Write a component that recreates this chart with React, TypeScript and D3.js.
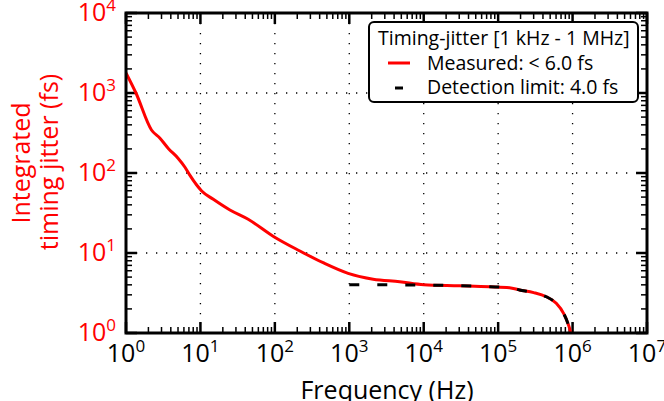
import React from 'react';
import * as d3 from 'd3';

// integrated timing jitter
const measuredFreq = [1, 1.36, 2.2, 2.86, 3.7, 5.0, 6.2, 7.2, 8.9, 10.4, 14.9, 24.9, 43.8, 97, 217, 445, 964, 2090, 4760, 1e4, 3e4, 7.7e4, 1.42e5, 1.94e5, 3e5, 4.43e5, 6.04e5, 7.57e5, 8.65e5, 9.4e5, 9.7e5];
const measuredJitter = [1780, 1000, 345, 272, 203, 153, 118, 94, 70.8, 59.6, 46.9, 34.5, 26.4, 16.0, 10.6, 7.56, 5.57, 4.69, 4.38, 4.02, 3.9, 3.79, 3.68, 3.45, 3.2, 2.84, 2.35, 1.76, 1.32, 1.0, 0.8];

const limitFreq = [1e3, 3e3, 1e4, 3e4, 7.7e4, 1.42e5, 1.94e5, 3e5, 4.43e5, 6.04e5, 7.57e5, 8.65e5, 9.4e5, 9.7e5];
const limitJitter = [4.0, 4.0, 3.98, 3.9, 3.79, 3.68, 3.45, 3.2, 2.84, 2.35, 1.76, 1.32, 1.0, 0.8];

const xDecades = [0, 1, 2, 3, 4, 5, 6, 7];
const yDecades = [0, 1, 2, 3, 4];
const legendLabels = ['Timing-jitter [1 kHz - 1 MHz]', 'Measured: < 6.0 fs', 'Detection limit: 4.0 fs'];

const W = 664, H = 401;
const left = 126, right = 647, top = 13, bottom = 333;
const font = '"Open Sans", sans-serif';

const App = () => {
    const x = d3.scaleLog().domain([1, 1e7]).range([left, right]);
    const y = d3.scaleLog().domain([1, 1e4]).range([bottom, top]);

    const line = d3.line<[number, number]>()
        .x(d => x(d[0]))
        .y(d => y(d[1]))
        .curve(d3.curveMonotoneX);

    const measured = line(measuredFreq.map((f, i) => [f, measuredJitter[i]]));
    const limit = line(limitFreq.map((f, i) => [f, limitJitter[i]]));

    const minorX: number[] = [];
    xDecades.slice(0, -1).forEach(k => { for (let j = 2; j < 10; j++) minorX.push(j * Math.pow(10, k)); });
    const minorY: number[] = [];
    yDecades.slice(0, -1).forEach(k => { for (let j = 2; j < 10; j++) minorY.push(j * Math.pow(10, k)); });

    return (
        <svg width={W} height={H} style={{ position: 'absolute', left: 0, top: 0, fontFamily: font }}>
            <defs>
                <clipPath id="plot-clip">
                    <rect x={left} y={top} width={right - left} height={bottom - top} />
                </clipPath>
            </defs>
            <rect x={0} y={0} width={W} height={H} fill="white" />

            {/* dotted grid */}
            {xDecades.slice(1, -1).map(k => (
                <line key={'gx' + k} x1={x(Math.pow(10, k))} x2={x(Math.pow(10, k))} y1={top} y2={bottom}
                    stroke="black" strokeWidth={1.3} strokeDasharray="1.3 8.7" />
            ))}
            {yDecades.slice(1, -1).map(k => (
                <line key={'gy' + k} x1={left} x2={right} y1={y(Math.pow(10, k))} y2={y(Math.pow(10, k))}
                    stroke="black" strokeWidth={1.3} strokeDasharray="1.3 8.7" />
            ))}

            {/* ticks on all four sides, pointing in */}
            {xDecades.map(k => {
                const px = x(Math.pow(10, k));
                return (
                    <g key={'tx' + k}>
                        <line x1={px} x2={px} y1={bottom} y2={bottom - 11} stroke="black" strokeWidth={2.5} />
                        <line x1={px} x2={px} y1={top} y2={top + 11} stroke="black" strokeWidth={2.5} />
                    </g>
                );
            })}
            {minorX.map((v, i) => (
                <g key={'mx' + i}>
                    <line x1={x(v)} x2={x(v)} y1={bottom} y2={bottom - 6} stroke="black" strokeWidth={1.5} />
                    <line x1={x(v)} x2={x(v)} y1={top} y2={top + 6} stroke="black" strokeWidth={1.5} />
                </g>
            ))}
            {yDecades.map(k => {
                const py = y(Math.pow(10, k));
                return (
                    <g key={'ty' + k}>
                        <line x1={left} x2={left + 11} y1={py} y2={py} stroke="black" strokeWidth={2.5} />
                        <line x1={right} x2={right - 11} y1={py} y2={py} stroke="black" strokeWidth={2.5} />
                    </g>
                );
            })}
            {minorY.map((v, i) => (
                <g key={'my' + i}>
                    <line x1={left} x2={left + 6} y1={y(v)} y2={y(v)} stroke="black" strokeWidth={1.5} />
                    <line x1={right} x2={right - 6} y1={y(v)} y2={y(v)} stroke="black" strokeWidth={1.5} />
                </g>
            ))}

            {/* curves */}
            <g clipPath="url(#plot-clip)">
                <path d={measured || ''} fill="none" stroke="red" strokeWidth={3} />
                <path d={limit || ''} fill="none" stroke="black" strokeWidth={3} strokeDasharray="10 18" />
            </g>

            {/* frame */}
            <rect x={left} y={top} width={right - left} height={bottom - top} fill="none" stroke="black" strokeWidth={3} />

            {/* tick labels */}
            {xDecades.map(k => (
                <text key={'lx' + k} x={x(Math.pow(10, k))} y={362} textAnchor="middle" fontSize={25} fill="black">
                    10<tspan dy={-10} fontSize={17}>{k}</tspan>
                </text>
            ))}
            {yDecades.map(k => (
                <text key={'ly' + k} x={116} y={y(Math.pow(10, k)) + 8} textAnchor="end" fontSize={25} fill="red">
                    10<tspan dy={-10} fontSize={17}>{k}</tspan>
                </text>
            ))}

            {/* axis titles */}
            <text x={387} y={399} textAnchor="middle" fontSize={25} fill="black">Frequency (Hz)</text>
            <text transform={`translate(30,163) rotate(-90)`} textAnchor="middle" fontSize={25} fill="red">Integrated</text>
            <text transform={`translate(58,162) rotate(-90)`} textAnchor="middle" fontSize={25} fill="red">timing jitter (fs)</text>

            {/* legend */}
            <g>
                <rect x={369} y={22} width={269} height={80} rx={5} fill="white" stroke="black" strokeWidth={2} />
                <text x={378} y={45} fontSize={19.5} fill="black">{legendLabels[0]}</text>
                <line x1={388} x2={410} y1={63} y2={63} stroke="red" strokeWidth={3} />
                <text x={427} y={70} fontSize={19.5} fill="black">{legendLabels[1]}</text>
                <line x1={395} x2={403} y1={88} y2={88} stroke="black" strokeWidth={3} />
                <text x={427} y={94} fontSize={19.5} fill="black">{legendLabels[2]}</text>
            </g>
        </svg>
    );
};

export default App;
